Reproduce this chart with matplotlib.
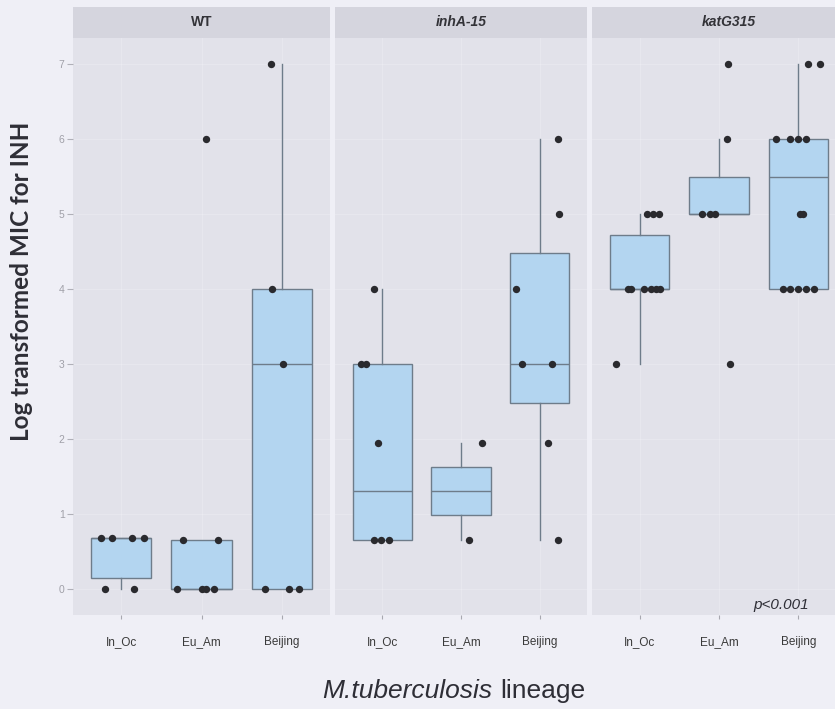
import matplotlib
matplotlib.use("Agg")
import matplotlib.pyplot as plt
from matplotlib.patches import Rectangle

# ---------------- data ----------------
panels = ["WT", "inhA-15", "katG315"]
lineages = ["In_Oc", "Eu_Am", "Beijing"]

# box statistics per panel (rows) and lineage (columns)
q1 = [[0.15, 0.00, 0.00], [0.65, 0.98, 2.48], [4.00, 5.00, 4.00]]
med = [[0.68, 0.00, 3.00], [1.30, 1.30, 3.00], [4.00, 5.00, 5.50]]
q3 = [[0.68, 0.65, 4.00], [3.00, 1.62, 4.48], [4.72, 5.50, 6.00]]
whislo = [[0.00, 0.00, 0.00], [0.65, 0.65, 0.65], [3.00, 5.00, 4.00]]
whishi = [[0.68, 0.65, 7.00], [4.00, 1.95, 6.00], [5.00, 6.00, 7.00]]

# observed (jittered) points: values
pts_y = [
    [[0.68, 0.68, 0.68, 0.68, 0, 0],
     [0.65, 0.65, 0, 0, 0, 0, 6],
     [7, 4, 3, 0, 0, 0]],
    [[4, 3, 3, 1.95, 0.65, 0.65, 0.65],
     [1.95, 0.65],
     [6, 5, 4, 3, 3, 1.95, 0.65]],
    [[5, 5, 5, 4, 4, 4, 4, 4, 4, 3],
     [7, 6, 5, 5, 5, 3],
     [7, 7, 6, 6, 6, 6, 5, 5, 4, 4, 4, 4, 4]],
]
# horizontal jitter (category units)
pts_dx = [
    [[-0.25, -0.12, 0.14, 0.28, -0.20, 0.16],
     [-0.23, 0.20, -0.30, 0.01, 0.06, 0.16, 0.05],
     [-0.14, -0.12, 0.01, -0.21, 0.09, 0.21]],
    [[-0.10, -0.27, -0.21, -0.05, -0.11, -0.01, 0.09],
     [0.27, 0.10],
     [0.23, 0.25, -0.30, -0.23, 0.15, 0.11, 0.23]],
    [[0.09, 0.17, 0.25, -0.15, -0.11, 0.05, 0.14, 0.20, 0.26, -0.30],
     [0.11, 0.10, -0.21, -0.11, -0.05, 0.14],
     [0.12, 0.27, -0.28, -0.11, 0.00, 0.10, 0.02, 0.06, -0.19, -0.11, 0.00, 0.10, 0.20]],
]
yticks = [0, 1, 2, 3, 4, 5, 6, 7]
p_text = "p<0.001"

# ---------------- style ----------------
FIG_BG = "#EFEFF6"
PANEL_BG = "#E2E2EA"
STRIP_BG = "#D5D5DE"
BOX_FILL = "#B3D5F0"
BOX_EDGE = "#6E7C8A"
DOT = "#2A2A2E"

W, H = 835, 709
fig = plt.figure(figsize=(W / 100, H / 100), dpi=100, facecolor=FIG_BG)

panel_px = [(73, 330), (335, 587), (592, 846)]
top_px, bot_px = 38, 615
strip_px = 31

for pi, (x0, x1) in enumerate(panel_px):
    ax = fig.add_axes([x0 / W, 1 - bot_px / H, (x1 - x0) / W, (bot_px - top_px) / H])
    ax.set_facecolor(PANEL_BG)
    ax.set_xlim(0.4, 3.6)
    ax.set_ylim(-0.35, 7.35)
    for s in ax.spines.values():
        s.set_visible(False)
    # faint grid
    for yv in yticks:
        ax.axhline(yv, color="white", lw=0.8, alpha=0.2, zorder=0)
    for xv in [1, 2, 3]:
        ax.axvline(xv, color="white", lw=0.8, alpha=0.2, zorder=0)

    stats = []
    for li in range(3):
        stats.append(dict(q1=q1[pi][li], med=med[pi][li], q3=q3[pi][li],
                          whislo=whislo[pi][li], whishi=whishi[pi][li], fliers=[]))
    ax.bxp(stats, positions=[1, 2, 3], widths=0.75, patch_artist=True,
           showcaps=False, showfliers=False,
           boxprops=dict(facecolor=BOX_FILL, edgecolor=BOX_EDGE, linewidth=1.0),
           medianprops=dict(color=BOX_EDGE, linewidth=1.0),
           whiskerprops=dict(color=BOX_EDGE, linewidth=1.0), manage_ticks=False)

    for li in range(3):
        xs = [li + 1 + d for d in pts_dx[pi][li]]
        ax.plot(xs, pts_y[pi][li], "o", color=DOT, ms=5.3, mew=0, zorder=5)

    ax.set_xticks([1, 2, 3])
    ax.set_xticklabels(lineages, fontsize=8.5, color="#3A3A3A", family="Liberation Sans")
    ax.tick_params(axis="x", length=3, color="#A8A8B0", pad=12)
    ax.set_yticks(yticks)
    if pi == 0:
        ax.set_yticklabels([str(v) for v in yticks], fontsize=7.5, color="#A0A0A8",
                           family="Liberation Sans")
        ax.tick_params(axis="y", length=4, color="#B0B0B8", pad=2)
    else:
        ax.tick_params(axis="y", length=0, labelleft=False)

    # strip
    sh = strip_px / (bot_px - top_px)
    ax.add_patch(Rectangle((0, 1), 1, sh, transform=ax.transAxes, facecolor=STRIP_BG,
                           edgecolor="none", clip_on=False))
    ax.text(0.5 if pi < 2 else 0.54, 1 + sh / 2, panels[pi], transform=ax.transAxes,
            ha="center", va="center", fontsize=10, fontweight="bold",
            style="normal" if pi == 0 else "italic", color="#333338",
            family="Liberation Sans")

    if pi == 2:
        ax.text(3.13, -0.21, p_text, ha="right", va="center", fontsize=11,
                style="italic", color="#2E2E36", family="Liberation Sans")

fig.text(22 / W, 1 - 281 / H, "Log transformed MIC for INH", rotation=90,
         ha="center", va="center", fontsize=17.5, fontweight="bold", color="#2E2E36",
         family="Lato")
fig.text(492 / W, 1 - 691 / H, "M.tuberculosis", ha="right", va="center",
         fontsize=19, style="italic", color="#2E2E36", family="Liberation Sans")
fig.text(500 / W, 1 - 691 / H, "lineage", ha="left", va="center",
         fontsize=19, color="#2E2E36", family="Liberation Sans")

fig.savefig("out.png", dpi=100, facecolor=FIG_BG)
